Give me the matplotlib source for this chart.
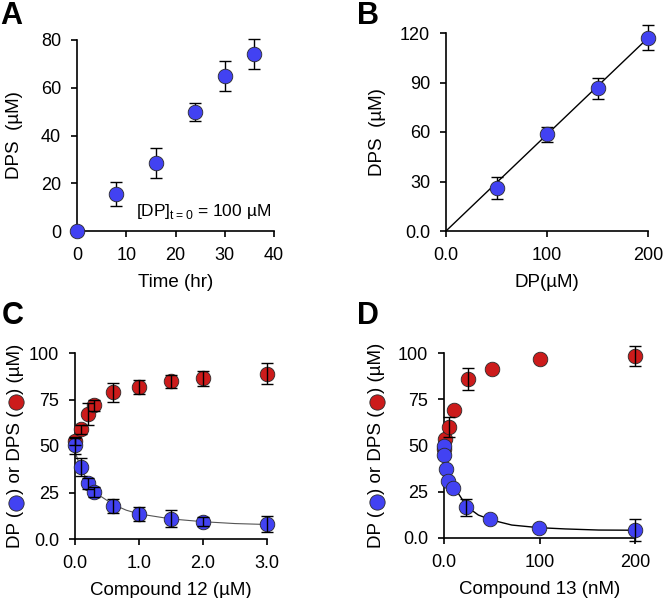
import numpy as np
import matplotlib
matplotlib.use('Agg')
import matplotlib.pyplot as plt

plt.rcParams['font.family'] = ['Liberation Sans', 'DejaVu Sans']
plt.rcParams['mathtext.fontset'] = 'custom'
plt.rcParams['mathtext.rm'] = 'Liberation Sans'

BLUE = '#4242f2'
RED = '#cc1b1b'
EDGE = '#2a2a2a'

# panel A: DPS formation over time
time_hr = [0, 8, 16, 24, 30, 36]
dps_time = [0, 15.5, 28.5, 50, 65, 74]
dps_time_err = [0, 5, 6.3, 3.8, 6.3, 6.3]

# panel B: DPS vs starting DP
dp_conc = [50, 100, 150, 200]
dps_conc = [26, 58.5, 86.5, 117.2]
dps_conc_err = [6.5, 4.6, 6.3, 7.5]
lineB_x = [0, 200]
lineB_y = [0, 117]

# panel C: compound 12 (uM)
c12_x = [0, 0.1, 0.2, 0.3, 0.6, 1.0, 1.5, 2.0, 3.0]
c12_dps = [52.5, 59, 67.3, 72, 78.8, 81.6, 84.9, 86.3, 88.9]
c12_dps_err = [2, 2.5, 6, 3, 5.2, 3.9, 3.5, 4, 5.6]
c12_dp = [50.3, 38.7, 30, 25.2, 17.7, 13.6, 10.9, 9.4, 8.0]
c12_dp_err = [4.5, 5, 3, 2.5, 3.6, 3.8, 4.5, 2.5, 4.4]
fitC_x = [0, 0.05, 0.1, 0.2, 0.3, 0.4, 0.6, 0.8, 1.0, 1.5, 2.0, 2.5, 3.0]
fitC_y = [47, 42, 37.5, 31, 26.5, 23, 18.5, 15.5, 13.5, 10.8, 9.3, 8.3, 7.8]

# panel D: compound 13 (nM)
c13_dps_x = [0, 1.5, 5, 10, 25, 50, 100, 200]
c13_dps = [48, 53.5, 60, 69, 85.8, 91.2, 96.6, 98.4]
c13_dps_err = [0, 0, 5.5, 0, 6, 0, 0, 5.6]
c13_dp_x = [-0.5, -0.5, 2.5, 4, 9, 23, 48.5, 99, 200]
c13_dp = [49.6, 45.1, 37.4, 30.7, 27.1, 16.5, 10.4, 5.6, 4.2]
c13_dp_err = [0, 0, 0, 0, 0, 4.5, 0, 0, 6]
fitD_x = [0, 3, 8, 15, 24, 36, 50, 71, 99, 127, 162, 200]
fitD_y = [47, 38.5, 30.4, 24.1, 16.9, 12.4, 9.7, 7.0, 5.6, 4.9, 4.3, 4.2]


def style(ax):
    for s in ['top', 'right']:
        ax.spines[s].set_visible(False)
    for s in ['left', 'bottom']:
        ax.spines[s].set_linewidth(1.2)
    ax.tick_params(direction='out', length=4.5, width=1.2, labelsize=13, pad=7)


def points(ax, x, y, err, color, bars_on_top=False):
    x = np.asarray(x, float)
    y = np.asarray(y, float)
    err = np.asarray(err, float)
    ax.plot(x, y, 'o', ms=10.5, mfc=color, mec=EDGE, mew=0.6, clip_on=False, zorder=3)
    m = err > 0
    ax.errorbar(x[m], y[m], yerr=err[m], fmt='none', ecolor='k', elinewidth=1,
                capsize=4.5, capthick=1, clip_on=False, zorder=4 if bars_on_top else 2)


def color_ylabel(ax, xpix, pieces, fontsize=13.5, gap=17):
    # vertical label built from text pieces, with coloured circles in the gaps
    fig = ax.figure
    fig.canvas.draw()
    r = fig.canvas.get_renderer()
    sizes = []
    for s, c in pieces:
        if c is not None:
            sizes.append(gap)
            continue
        t = fig.text(0, 0, s, fontsize=fontsize)
        sizes.append(t.get_window_extent(r).width)
        t.remove()
    axb = ax.get_window_extent(r)
    y = axb.y0 + (axb.height - sum(sizes)) / 2
    inv = fig.transFigure.inverted()
    for (s, c), h in zip(pieces, sizes):
        if c is None:
            fx, fy = inv.transform((xpix, y))
            fig.text(fx, fy, s, rotation=90, ha='center', va='bottom', fontsize=fontsize)
        else:
            fx, fy = inv.transform((xpix + 0.5, y + h / 2))
            fig.add_artist(plt.Line2D([fx], [fy], marker='o', ms=11, mfc=c, mec=EDGE,
                                      mew=0.6, transform=fig.transFigure))
        y += h


fig = plt.figure(figsize=(6.64, 5.98), dpi=100)
axA = fig.add_axes([77 / 664, 1 - 231 / 598, 197 / 664, 191 / 598])
axB = fig.add_axes([446 / 664, 1 - 231 / 598, 202 / 664, 198 / 598])
axC = fig.add_axes([75 / 664, 1 - 539 / 598, 192 / 664, 186 / 598])
axD = fig.add_axes([444 / 664, 1 - 538 / 598, 191 / 664, 185 / 598])
for ax in [axA, axB, axC, axD]:
    style(ax)

# A
points(axA, time_hr, dps_time, dps_time_err, BLUE)
axA.set_xlim(0, 40)
axA.set_ylim(0, 80)
axA.set_xticks([0, 10, 20, 30, 40])
axA.set_yticks([0, 20, 40, 60, 80])
axA.set_xlabel('Time (hr)', fontsize=13.5, labelpad=7)
axA.set_ylabel('DPS  (µM)', fontsize=13.5, labelpad=13)
axA.text(12, 8, r'[DP]$_{\mathrm{t{=}0}}$ = 100 µM', fontsize=12.5, va='center')

# B
axB.plot(lineB_x, lineB_y, color='k', lw=1, zorder=1)
points(axB, dp_conc, dps_conc, dps_conc_err, BLUE)
axB.set_xlim(0, 200)
axB.set_ylim(0, 120)
axB.set_xticks([0, 100, 200])
axB.set_xticklabels(['0.0', '100', '200'])
axB.set_yticks([0, 30, 60, 90, 120])
axB.set_yticklabels(['0.0', '30', '60', '90', '120'])
axB.set_xlabel('DP(µM)', fontsize=13.5, labelpad=7)
axB.set_ylabel('DPS  (µM)', fontsize=13.5, labelpad=10)

# C
axC.plot(fitC_x, fitC_y, color='#555555', lw=0.8, zorder=1)
points(axC, c12_x, c12_dps, c12_dps_err, RED, bars_on_top=True)
points(axC, c12_x, c12_dp, c12_dp_err, BLUE, bars_on_top=True)
axC.set_xlim(0, 3)
axC.set_ylim(0, 100)
axC.set_xticks([0, 1, 2, 3])
axC.set_xticklabels(['0.0', '1.0', '2.0', '3.0'])
axC.set_yticks([0, 25, 50, 75, 100])
axC.set_yticklabels(['0.0', '25', '50', '75', '100'])
axC.set_xlabel('Compound 12 (µM)', fontsize=13.5, labelpad=7)

# D
axD.plot(fitD_x, fitD_y, color='k', lw=1, zorder=1)
points(axD, c13_dps_x, c13_dps, c13_dps_err, RED, bars_on_top=True)
points(axD, c13_dp_x, c13_dp, c13_dp_err, BLUE, bars_on_top=True)
axD.set_xlim(0, 200)
axD.set_ylim(0, 100)
axD.set_xticks([0, 100, 200])
axD.set_xticklabels(['0.0', '100', '200'])
axD.set_yticks([0, 25, 50, 75, 100])
axD.set_yticklabels(['0.0', '25', '50', '75', '100'])
axD.set_xlabel('Compound 13 (nM)', fontsize=13.5, labelpad=7)

label_pieces = [('DP (', None), ('', BLUE), (') or DPS (', None), ('', RED), (') (µM)', None)]
color_ylabel(axC, 15, label_pieces)
color_ylabel(axD, 376, label_pieces)

for s, x, y in [('A', 0.0, 0.998), ('B', 357 / 664, 0.998), ('C', 0.003, 1 - 301 / 598), ('D', 357 / 664, 1 - 301 / 598)]:
    fig.text(x, y, s, fontsize=22, fontweight='bold', va='top', ha='left')

fig.savefig('out.png', dpi=100)
